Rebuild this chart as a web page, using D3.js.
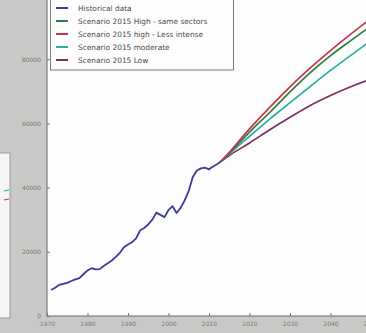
<!DOCTYPE html>
<html><head><meta charset="utf-8">
<script src="https://cdn.jsdelivr.net/npm/d3@7"></script>
<style>
html,body{margin:0;padding:0;background:#c9c9c7;}
svg{display:block;}
</style></head>
<body>
<script>
// ---- data ----
const histYears = d3.range(1971, 2014);
const histValues = [8100,8800,9700,10000,10300,10900,11400,11800,13000,14200,
  14900,14500,14600,15600,16400,17300,18400,19700,21400,22300,
  23000,24200,26700,27400,28500,30000,32200,31500,30800,33000,
  34200,32100,33700,36000,39000,43300,45300,46000,46200,45700,
  46600,47300,48200];
const scenYears = [2013,2015,2020,2025,2030,2035,2040,2045,2050];
const highSame   = [48200,50700,57300,63400,69800,75800,81100,85800,90400];
const highLess   = [48200,51000,58300,65000,71400,77300,82700,87800,92700];
const moderate   = [48200,50500,56000,61350,66450,71500,76500,81200,85800];
const low        = [48200,50000,53900,58000,61900,65600,68700,71400,73800];
const seriesNames = ["Historical data","Scenario 2015 High - same sectors",
  "Scenario 2015 high - Less intense","Scenario 2015 moderate","Scenario 2015 Low"];
const xTicks = [1970,1980,1990,2000,2010,2020,2030,2040,2050];
const yTicks = [0,20000,40000,60000,80000];

// ---- styles ----
const colors = ["#3b3b9e","#2f7d3f","#c2354f","#2fae9c","#7d2f63"];
const W = 366, H = 333;
const svg = d3.select("body").append("svg").attr("width",W).attr("height",H);

// background
svg.append("rect").attr("width",W).attr("height",H).attr("fill","#c9c9c7");

// fragment of neighbouring figure on the left
const frag = svg.append("g");
frag.append("rect").attr("x",-2).attr("y",153).attr("width",12).attr("height",165)
  .attr("fill","#f6f6f6").attr("stroke","#8a8a8a").attr("stroke-width",0.8);
frag.append("line").attr("x1",4).attr("x2",9).attr("y1",191).attr("y2",190).attr("stroke","#2fae9c").attr("stroke-width",1.2);
frag.append("line").attr("x1",4).attr("x2",9).attr("y1",200).attr("y2",199).attr("stroke","#c2354f").attr("stroke-width",1.2);

const x = d3.scaleLinear().domain([1970,2050]).range([47,371]);
const y = d3.scaleLinear().domain([0,100000]).range([316,-5]);

// plot area
svg.append("rect").attr("x",x(1970)).attr("y",y(100000))
  .attr("width",x(2050)-x(1970)).attr("height",y(0)-y(100000))
  .attr("fill","#fdfdfd").attr("stroke","#6a6a6a").attr("stroke-width",1);

// axes
const xAxis = d3.axisBottom(x).tickValues(xTicks).tickFormat(d3.format("d")).tickSize(-3).tickPadding(6);
const gx = svg.append("g").attr("transform",`translate(0,${y(0)})`).call(xAxis);
const yAxis = d3.axisLeft(y).tickValues(yTicks).tickFormat(d3.format("d")).tickSize(-3).tickPadding(6);
const gy = svg.append("g").attr("transform",`translate(${x(1970)},0)`).call(yAxis);
[gx,gy].forEach(g=>{
  g.select(".domain").remove();
  g.selectAll(".tick line").attr("stroke","#777");
  g.selectAll("text").attr("fill","#7a7a7a").style("font-family","DejaVu Sans").style("font-size","6px");
});

// lines
const line = d3.line().x(d=>x(d[0])).y(d=>y(d[1])).curve(d3.curveMonotoneX);
const scen = [highSame, highLess, moderate, low];
const order = [3,2,0,1]; // draw low first, red last
order.forEach(i=>{
  svg.append("path").datum(scenYears.map((yr,j)=>[yr,scen[i][j]]))
    .attr("d",line).attr("fill","none").attr("stroke",colors[i+1]).attr("stroke-width",1.7);
});
svg.append("path").datum(histYears.map((yr,j)=>[yr,histValues[j]]))
  .attr("d",d3.line().x(d=>x(d[0])).y(d=>y(d[1])))
  .attr("fill","none").attr("stroke",colors[0]).attr("stroke-width",1.8).attr("stroke-linejoin","round");

// legend
const lg = svg.append("g");
lg.append("rect").attr("x",50.5).attr("y",-3).attr("width",183).attr("height",73)
  .attr("fill","#fdfdfd").attr("stroke","#7a7a7a").attr("stroke-width",1);
seriesNames.forEach((n,i)=>{
  const yy = 8 + i*13;
  lg.append("line").attr("x1",56).attr("x2",68).attr("y1",yy).attr("y2",yy)
    .attr("stroke",colors[i]).attr("stroke-width",2);
  lg.append("text").attr("x",78).attr("y",yy+3).text(n)
    .attr("fill","#4a4a4a").style("font-family","DejaVu Sans").style("font-size","7.4px");
});
</script>
</body></html>
